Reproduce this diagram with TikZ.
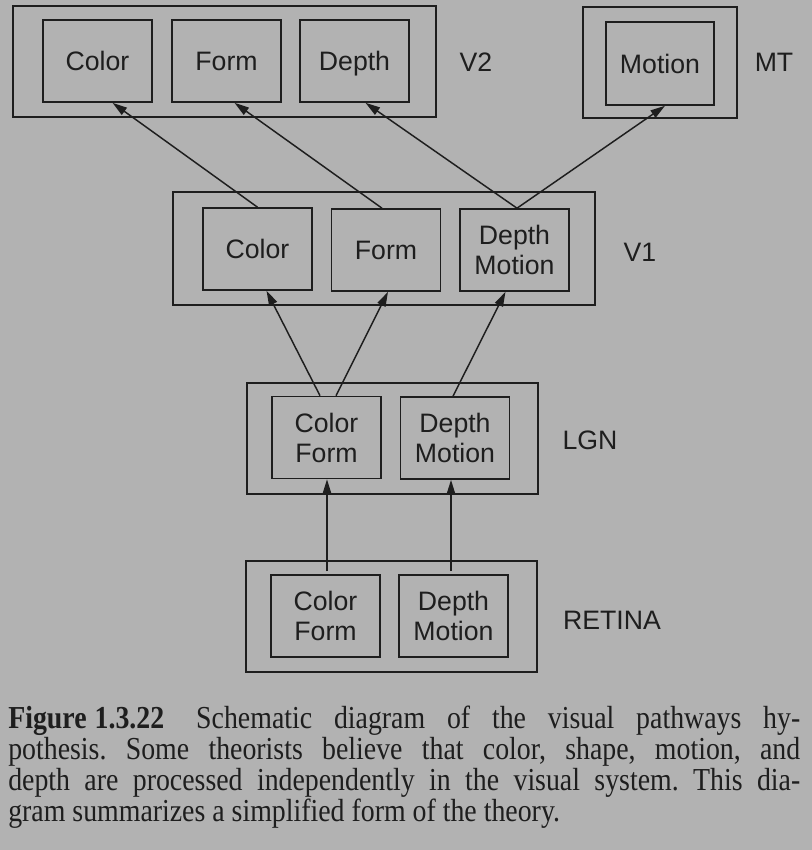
\documentclass[tikz,border=0pt]{standalone}
\usepackage{fontspec}
\setmainfont{Liberation Serif}[FakeStretch=0.87]
\newfontfamily\diagfont{Liberation Sans}
\usetikzlibrary{calc,arrows.meta}
\definecolor{bg}{RGB}{178,178,178}
\definecolor{ink}{RGB}{30,30,30}
\frenchspacing
\begin{document}
\begin{tikzpicture}[x=0.75pt,y=-0.75pt,
  every node/.style={text=ink},
  outerbox/.style={draw=ink,line width=1.2pt,inner sep=0pt},
  cellbox/.style={draw=ink,line width=1.2pt,inner sep=0pt,minimum width=81.75pt,minimum height=61.5pt,align=center,font=\diagfont\fontsize{20}{22.5}\selectfont},
  areatext/.style={font=\diagfont\fontsize{20}{22.5}\selectfont},
  conn/.style={draw=ink,line width=1.1pt,-{Triangle[length=11pt,width=6.5pt]}},
  captext/.style={anchor=base west,inner sep=0pt,font=\fontsize{24}{25}\selectfont}]
\fill[bg] (0,0) rectangle (812,850);
\useasboundingbox (0,0) rectangle (812,850);
% V2
\node[outerbox,minimum width=317.25pt,minimum height=83.25pt] (v2) at (224.5,61.5) {};
\node[cellbox] (v2c) at (97.5,61) {Color};
\node[cellbox] (v2f) at (226.5,61) {Form};
\node[cellbox] (v2d) at (354.5,61) {\raisebox{0pt}[\height][0pt]{Depth}};
\node[areatext] (v2l) at (476,62) {V2};
% MT
\node[outerbox,minimum width=115.5pt,minimum height=83.25pt] (mt) at (660,62.5) {};
\node[cellbox,minimum width=81pt,minimum height=62.25pt] (mtm) at (660,63.5) {Motion};
\node[areatext] (mtl) at (774,62) {MT};
% V1
\node[outerbox,minimum width=316.5pt,minimum height=84.75pt] (v1) at (384,248.5) {};
\node[cellbox] (v1c) at (257.5,249) {Color};
\node[cellbox] (v1f) at (386,250) {Form};
\node[cellbox] (v1d) at (514.5,250) {Depth\\Motion};
\node[areatext] (v1l) at (640,252) {V1};
% LGN
\node[outerbox,minimum width=218.25pt,minimum height=83.25pt] (lgn) at (392.5,438.5) {};
\node[cellbox] (lcf) at (326.5,437.5) {Color\\Form};
\node[cellbox] (ldm) at (455,438) {Depth\\Motion};
\node[areatext] (lgnl) at (590,440) {LGN};
% RETINA
\node[outerbox,minimum width=218.25pt,minimum height=83.25pt] (ret) at (391.5,616.5) {};
\node[cellbox] (rcf) at (325.5,616) {Color\\Form};
\node[cellbox] (rdm) at (453.5,616) {Depth\\Motion};
\node[areatext] (retl) at (612,620) {RETINA};
% connectors V1 -> V2 / MT
\draw[conn] (v1c.north) -- ($(v2c.south)+(15,0)$);
\draw[conn] ($(v1f.north)+(-4,0)$) -- ($(v2f.south)+(8,0)$);
\draw[conn] ($(v1d.north)+(2.5,0)$) -- ($(v2d.south)+(11,0)$);
\draw[conn] ($(v1d.north)+(2.5,0)$) -- ($(mtm.south)+(5,0)$);
% LGN -> V1
\draw[conn] ($(lcf.north)+(-6.5,0)$) -- ($(v1c.south)+(9,0)$);
\draw[conn] ($(lcf.north)+(9.5,0)$) -- ($(v1f.south)+(2,0)$);
\draw[conn] ($(ldm.north)+(-2,0)$) -- ($(v1d.south)+(-9,0)$);
% RETINA -> LGN
\draw[conn] ($(rcf.north)+(1.5,-3)$) -- ($(lcf.south)+(0.5,0)$);
\draw[conn] ($(rdm.north)+(-2.5,-3)$) -- ($(ldm.south)+(-4,0)$);
% caption
\node[captext] (cap1) at (8,728) {\makebox[594pt][s]{\textbf{Figure\hspace{6pt}1.3.22}\hspace{24pt}Schematic diagram of the visual pathways hy-}};
\node[captext] (cap2) at (8,759) {\makebox[594pt][s]{pothesis. Some theorists believe that color, shape, motion, and}};
\node[captext] (cap3) at (8,790) {\makebox[594pt][s]{depth are processed independently in the visual system. This dia-}};
\node[captext] (cap4) at (8,821) {gram summarizes a simplified form of the theory.};
\end{tikzpicture}
\end{document}
